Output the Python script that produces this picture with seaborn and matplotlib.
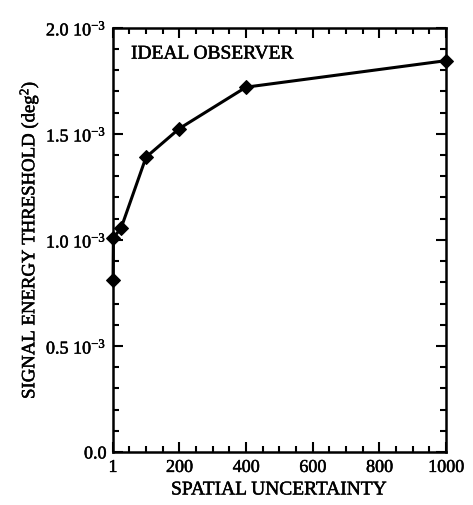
import matplotlib
matplotlib.use("Agg")
import matplotlib.pyplot as plt
import matplotlib.patheffects as pe
from matplotlib.ticker import MultipleLocator, FixedLocator
import seaborn as sns
import pandas as pd

# Ideal observer threshold vs. spatial uncertainty
uncertainty = [1, 2, 25, 100, 200, 400, 1000]
threshold = [0.81e-3, 1.01e-3, 1.055e-3, 1.39e-3, 1.525e-3, 1.72e-3, 1.845e-3]

x_ticks = [1, 200, 400, 600, 800, 1000]
x_tick_labels = ["1", "200", "400", "600", "800", "1000"]
y_ticks = [0.0, 0.5e-3, 1.0e-3, 1.5e-3, 2.0e-3]
y_tick_labels = ["0.0", "0.5 10$^{-3}$", "1.0 10$^{-3}$", "1.5 10$^{-3}$", "2.0 10$^{-3}$"]

sns.set_theme(style="ticks")
plt.rcParams["font.family"] = ["Liberation Serif", "DejaVu Serif"]
plt.rcParams["mathtext.fontset"] = "custom"
plt.rcParams["mathtext.rm"] = "Liberation Serif"
plt.rcParams["mathtext.it"] = "Liberation Serif:italic"
plt.rcParams["mathtext.bf"] = "Liberation Serif:bold"

# slightly heavier strokes for all text
heavy = [pe.withStroke(linewidth=0.35, foreground="black")]

df = pd.DataFrame({"uncertainty": uncertainty, "threshold": threshold})

fig = plt.figure(figsize=(4.73, 5.05), dpi=100)
ax = fig.add_axes([0.239, 0.105, 0.704, 0.840])

sns.lineplot(data=df, x="uncertainty", y="threshold", ax=ax, color="black",
             linewidth=2.2, marker="D", markersize=7.5, markeredgecolor="black",
             markerfacecolor="black", clip_on=False, zorder=3)

ax.set_xlim(1, 1000)
ax.set_ylim(0, 2.0e-3)

ax.xaxis.set_major_locator(FixedLocator(x_ticks))
ax.set_xticklabels(x_tick_labels)
ax.xaxis.set_minor_locator(MultipleLocator(50))
ax.yaxis.set_major_locator(FixedLocator(y_ticks))
ax.set_yticklabels(y_tick_labels)
ax.yaxis.set_minor_locator(MultipleLocator(0.1e-3))

ax.tick_params(which="both", direction="in", top=True, right=True,
               color="black", width=1.5, labelsize=13, labelcolor="black")
ax.tick_params(which="major", length=7, pad=5)
ax.tick_params(which="minor", length=4)

for lbl in ax.get_xticklabels() + ax.get_yticklabels():
    lbl.set_path_effects(heavy)

for s in ax.spines.values():
    s.set_linewidth(1.8)
    s.set_color("black")

ax.set_xlabel("SPATIAL UNCERTAINTY", fontsize=14, color="black", labelpad=4,
              path_effects=heavy)
ax.set_ylabel("SIGNAL ENERGY THRESHOLD (deg$^2$)", fontsize=13.5, color="black",
              labelpad=4, path_effects=heavy)

ax.text(0.054, 0.958, "IDEAL OBSERVER", transform=ax.transAxes, fontsize=14,
        ha="left", va="top", color="black", path_effects=heavy)

fig.savefig("out.png", dpi=100)
